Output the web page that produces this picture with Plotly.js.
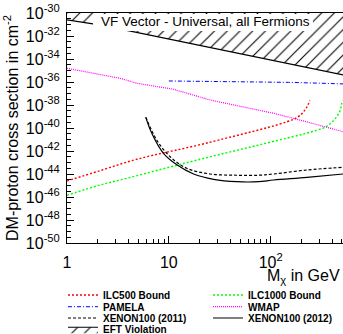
<!DOCTYPE html>
<html>
<head>
<meta charset="utf-8">
<script src="https://cdn.plot.ly/plotly-3.0.1.min.js"></script>
<style>html,body{margin:0;padding:0;background:#fff;}#chart{width:343px;height:334px;}</style>
</head>
<body>
<div id="chart"></div>
<script>
// ---- data ----
const sigmaTop = 1e-30; // upper edge of the y axis range

const eftMass  = [1, 1.8, 4.2, 513];
const eftSigma = [2.5e-31, 1.12e-31, 2.7e-32, 4.1e-36];

const wmapMass  = [1, 3.32, 4.84, 11.1, 25.5, 107, 168, 513];
const wmapSigma = [1.55e-35, 2.1e-36, 7.8e-37, 2.34e-37, 2.7e-38, 1.9e-39, 6.9e-40, 4.8e-41];

const pamelaMass  = [10, 50, 150, 300, 513];
const pamelaSigma = [1.23e-36, 1.12e-36, 9.3e-37, 7.9e-37, 6.8e-37];

const ilc500Mass  = [1, 2.11, 4.84, 23.7, 168, 200, 214, 229, 242];
const ilc500Sigma = [2.5e-45, 1.95e-44, 1.9e-43, 5.0e-42, 5.75e-40, 1.58e-39, 3.16e-39, 7.9e-39, 2.5e-38];

const ilc1000Mass  = [1, 2.11, 3.32, 20.3, 76, 282, 355, 398, 447, 479, 495, 507];
const ilc1000Sigma = [1.41e-46, 1.1e-45, 3.0e-45, 1.9e-43, 3.3e-42, 6.3e-41, 1.41e-40, 3.16e-40, 1.0e-39, 3.16e-39, 1.0e-38, 2.5e-38];

const xe2011Mass  = [5.94, 7.6, 10.3, 15, 25.5, 46.6, 76, 107, 227, 513];
const xe2011Sigma = [8.5e-40, 9.1e-42, 3.16e-43, 3.16e-44, 1.0e-44, 7.8e-45, 7.8e-45, 1.0e-44, 2.24e-44, 3.8e-44];

const xe2012Mass  = [5.94, 6.8, 8.85, 12, 17.5, 27.5, 46.6, 76, 107, 227, 513];
const xe2012Sigma = [8.5e-40, 3.47e-41, 6.3e-43, 6.3e-44, 1.0e-44, 3.47e-45, 2.14e-45, 2.14e-45, 3.0e-45, 5.1e-45, 1.0e-44];

const xTickVals = [1, 10, 100];
const xTickText = ['1', '10', '10<sup>2</sup>'];
const xMinorVals = [2,3,4,5,6,7,8,9,20,30,40,50,60,70,80,90,200,300,400,500];

const yExps = [-50, -48, -46, -44, -42, -40, -38, -36, -34, -32, -30];
const yTickVals = yExps.map(e => Math.pow(10, e));
const yTickText = yExps.map(e => '10<sup>' + e + '</sup>');
const yMinorVals = [];
for (let e = -50; e < -30; e++) {
  yMinorVals.push(Math.pow(10, e + 0.5));
  if (e % 2 !== 0) yMinorVals.push(Math.pow(10, e));
}

const names = ['ILC500 Bound', 'ILC1000 Bound', 'PAMELA', 'WMAP', 'XENON100 (2011)', 'XENON100 (2012)', 'EFT Violation'];

// ---- traces ----
const traces = [
  {x: eftMass, y: eftMass.map(() => sigmaTop), mode: 'lines', line: {width: 0, color: 'rgba(0,0,0,0)'},
   showlegend: false, hoverinfo: 'skip'},
  {x: eftMass, y: eftSigma, name: names[6], mode: 'lines', fill: 'tonexty',
   fillcolor: 'rgba(255,255,255,0)',
   fillpattern: {shape: '/', size: 9, solidity: 0.12, fgcolor: 'black', bgcolor: 'rgba(255,255,255,0)'},
   line: {color: 'black', width: 1.2}, legend: 'legend7'},
  {x: wmapMass, y: wmapSigma, name: names[3], mode: 'lines', line: {color: '#ff00ff', width: 1.2, dash: '1px,1px'}, legend: 'legend4'},
  {x: pamelaMass, y: pamelaSigma, name: names[2], mode: 'lines', line: {color: '#0000ff', width: 1, dash: '4px,2px,1px,2px'}, legend: 'legend3'},
  {x: ilc500Mass, y: ilc500Sigma, name: names[0], mode: 'lines', line: {color: '#ff0000', width: 1.4, dash: '2px,2px', shape: 'spline'}, legend: 'legend'},
  {x: ilc1000Mass, y: ilc1000Sigma, name: names[1], mode: 'lines', line: {color: '#00ff00', width: 1.4, dash: '2px,2px', shape: 'spline'}, legend: 'legend2'},
  {x: xe2011Mass, y: xe2011Sigma, name: names[4], mode: 'lines', line: {color: 'black', width: 1.2, dash: '3px,2px', shape: 'spline'}, legend: 'legend5'},
  {x: xe2012Mass, y: xe2012Sigma, name: names[5], mode: 'lines', line: {color: 'black', width: 1.2, shape: 'spline'}, legend: 'legend6'}
];

const font = {family: '"Liberation Sans", Arial, Helvetica, sans-serif', color: 'black'};
const legFont = {family: font.family, color: 'black', size: 10, weight: 700};
function leg(x, y) {
  return {x: x, y: y, xanchor: 'left', yanchor: 'middle', bgcolor: 'rgba(0,0,0,0)',
          borderwidth: 0, font: legFont, itemwidth: 30, tracegroupgap: 0};
}
const col1 = -0.0145, col2 = 0.511;
const rows = [-0.2261, -0.277, -0.326, -0.375];

const layout = {
  width: 343, height: 334,
  margin: {l: 67, r: 0, t: 13, b: 91, autoexpand: false},
  paper_bgcolor: 'white', plot_bgcolor: 'white',
  font: font,
  showlegend: true,
  legend: leg(col1, rows[0]),
  legend2: leg(col2, rows[0]),
  legend3: leg(col1, rows[1]),
  legend4: leg(col2, rows[1]),
  legend5: leg(col1, rows[2]),
  legend6: leg(col2, rows[2]),
  legend7: leg(col1, rows[3]),
  xaxis: {
    type: 'log', range: [0, 2.71], showgrid: false, zeroline: false,
    showline: true, mirror: true, linecolor: 'black', linewidth: 1,
    tickmode: 'array', tickvals: xTickVals, ticktext: xTickText,
    ticks: 'inside', ticklen: 7, tickcolor: 'black', tickwidth: 1,
    ticklabelstandoff: 5,
    tickfont: {family: font.family, size: 16, color: 'black'},
    minor: {tickmode: 'array', tickvals: xMinorVals, ticks: 'inside', ticklen: 4, tickcolor: 'black', tickwidth: 1, showgrid: false}
  },
  yaxis: {
    type: 'log', range: [-50, -30], showgrid: false, zeroline: false,
    showline: true, mirror: true, linecolor: 'black', linewidth: 1,
    tickmode: 'array', tickvals: yTickVals, ticktext: yTickText,
    ticks: 'inside', ticklen: 7, tickcolor: 'black', tickwidth: 1,
    ticklabelstandoff: 3,
    tickfont: {family: font.family, size: 16, color: 'black'},
    minor: {tickmode: 'array', tickvals: yMinorVals, ticks: 'inside', ticklen: 4, tickcolor: 'black', tickwidth: 1, showgrid: false},
    title: {text: 'DM-proton cross section in cm<sup>-2</sup>', standoff: 3,
            font: {family: font.family, size: 16, color: 'black'}}
  },
  shapes: [
    {type: 'rect', xref: 'paper', yref: 'paper', x0: 0.0942, x1: 0.891, y0: 0.9217, y1: 0.9957,
     fillcolor: 'white', line: {width: 0}, layer: 'above'}
  ],
  annotations: [
    {text: 'VF Vector - Universal, all Fermions', xref: 'paper', yref: 'paper',
     x: 0.5, y: 0.962, xanchor: 'center', yanchor: 'middle', showarrow: false,
     font: {family: font.family, size: 13.5, color: 'black'}},
    {text: 'M<sub>χ</sub> in GeV', xref: 'paper', yref: 'paper',
     x: 0.9964, y: -0.146, xanchor: 'right', yanchor: 'middle', showarrow: false,
     font: {family: font.family, size: 16, color: 'black'}}
  ]
};

Plotly.newPlot('chart', traces, layout, {displayModeBar: false, staticPlot: true});
</script>
</body>
</html>
